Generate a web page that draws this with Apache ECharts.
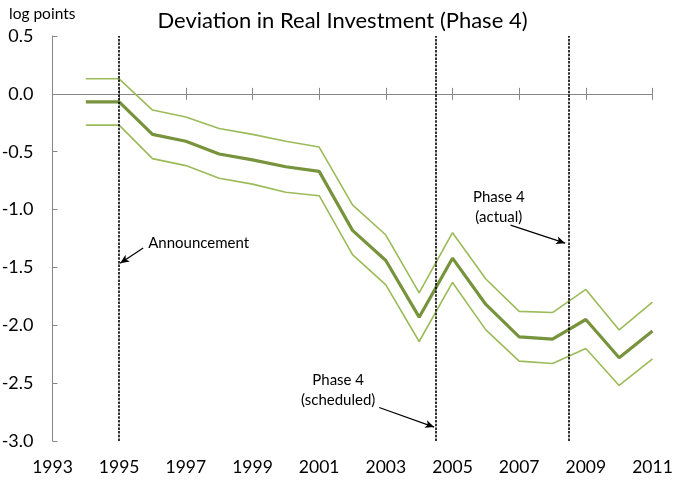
<!DOCTYPE html>
<html>
<head>
<meta charset="utf-8">
<script src="https://cdn.jsdelivr.net/npm/echarts@6/dist/echarts.min.js"></script>
<style>html,body{margin:0;padding:0;background:#fff}#c{width:685px;height:483px}</style>
</head>
<body>
<div id="c"></div>
<script>
const years = [1994,1995,1996,1997,1998,1999,2000,2001,2002,2003,2004,2005,2006,2007,2008,2009,2010,2011];
const central = [-0.07,-0.07,-0.35,-0.41,-0.52,-0.57,-0.63,-0.67,-1.18,-1.44,-1.93,-1.42,-1.82,-2.10,-2.12,-1.95,-2.28,-2.05];
const upper = [0.13,0.13,-0.14,-0.20,-0.30,-0.35,-0.41,-0.46,-0.96,-1.22,-1.72,-1.20,-1.60,-1.88,-1.89,-1.69,-2.04,-1.80];
const lower = [-0.27,-0.27,-0.56,-0.62,-0.73,-0.78,-0.85,-0.88,-1.39,-1.65,-2.14,-1.63,-2.04,-2.31,-2.33,-2.20,-2.52,-2.29];
const eventLines = [1995, 2004.5, 2008.5];
const annotations = [
  {name:'Announcement', text:'Announcement', at:[1995.87,-1.29], pos:'right', from:[1995.72,-1.333], to:[1995.03,-1.463]},
  {name:'actual', text:'Phase 4\n(actual)', at:[2006.39,-0.978], pos:'inside', from:[2006.74,-1.134], to:[2008.38,-1.29]},
  {name:'scheduled', text:'Phase 4\n(scheduled)', at:[2001.57,-2.563], pos:'inside', from:[2002.8,-2.71], to:[2004.45,-2.88]}
];
const FONT = 'Lato';
const axisGray = '#868686';
const pair = arr => years.map((y,i)=>[y, arr[i]]);
const gridPos = {left:52.5, right:32.5, top:36, bottom:42, containLabel:false, outerBoundsMode:'none'};

const chart = echarts.init(document.getElementById('c'));
chart.setOption({
  animation:false,
  textStyle:{fontFamily:FONT},
  title:[
    {text:'Deviation in Real Investment (Phase 4)', left:'center', top:5, textStyle:{fontFamily:FONT, fontSize:22, fontWeight:'normal', color:'#000'}},
    {text:'log points', left:4, top:1, textStyle:{fontFamily:FONT, fontSize:15.5, fontWeight:'normal', color:'#000'}}
  ],
  grid:[Object.assign({}, gridPos), Object.assign({}, gridPos)],
  xAxis:[
    {type:'value', gridIndex:0, position:'bottom', min:1993, max:2011, interval:2,
     axisLine:{show:false, onZero:false}, axisTick:{show:false}, splitLine:{show:false},
     axisLabel:{fontFamily:FONT, fontSize:17.5, color:'#000', margin:17, formatter:v=>String(v)}},
    {type:'value', gridIndex:0, position:'top', min:1993, max:2011, interval:2,
     axisLine:{show:true, onZero:true, lineStyle:{color:axisGray, width:1}},
     axisTick:{show:true, inside:true, length:6, lineStyle:{color:axisGray, width:1}},
     axisLabel:{show:false}, splitLine:{show:false}},
    {type:'value', gridIndex:1, position:'bottom', min:1993, max:2011, interval:2,
     axisLine:{show:true, onZero:true, lineStyle:{color:axisGray, width:1}},
     axisTick:{show:true, inside:true, length:6, lineStyle:{color:axisGray, width:1}},
     axisLabel:{show:false}, splitLine:{show:false}}
  ],
  yAxis:[
    {type:'value', gridIndex:0, min:-3, max:0.5, interval:0.5,
     axisLine:{show:true, lineStyle:{color:axisGray, width:1}},
     axisTick:{show:true, inside:true, length:5, lineStyle:{color:axisGray}},
     splitLine:{show:false},
     axisLabel:{fontFamily:FONT, fontSize:18, color:'#000', margin:19, formatter:v=>v.toFixed(1)}},
    {type:'value', gridIndex:1, min:-3, max:0.5, interval:0.5, show:false}
  ],
  series:[
    {type:'line', name:'upper', xAxisIndex:0, yAxisIndex:0, data:pair(upper), symbol:'none',
     lineStyle:{color:'#9BBB59', width:1.6}, z:2},
    {type:'line', name:'lower', xAxisIndex:0, yAxisIndex:0, data:pair(lower), symbol:'none',
     lineStyle:{color:'#9BBB59', width:1.6}, z:2},
    {type:'line', name:'central', xAxisIndex:0, yAxisIndex:0, data:pair(central), symbol:'none',
     lineStyle:{color:'#77933C', width:3.2}, z:3,
     markLine:{silent:true, symbol:'none', animation:false,
       lineStyle:{color:'#000', type:[2.5,1.2], width:1.6},
       label:{show:false},
       data: eventLines.map(x=>({xAxis:x})).concat(
         annotations.map(a=>[
           {coord:a.from, symbol:'none', lineStyle:{type:'solid', width:1.2, color:'#000'}},
           {coord:a.to, symbol:'arrow', symbolSize:[6,9]}
         ]))
     },
     markPoint:{silent:true, animation:false, symbol:'circle', symbolSize:0.01,
       data: annotations.map(a=>({name:a.name, coord:a.at,
         label:{show:true, position:a.pos, distance:0, formatter:a.text, color:'#000',
           fontFamily:FONT, fontSize:15, lineHeight:20, align:a.pos==='right'?'left':'center'}}))
     }
    }
  ]
});
</script>
</body>
</html>
